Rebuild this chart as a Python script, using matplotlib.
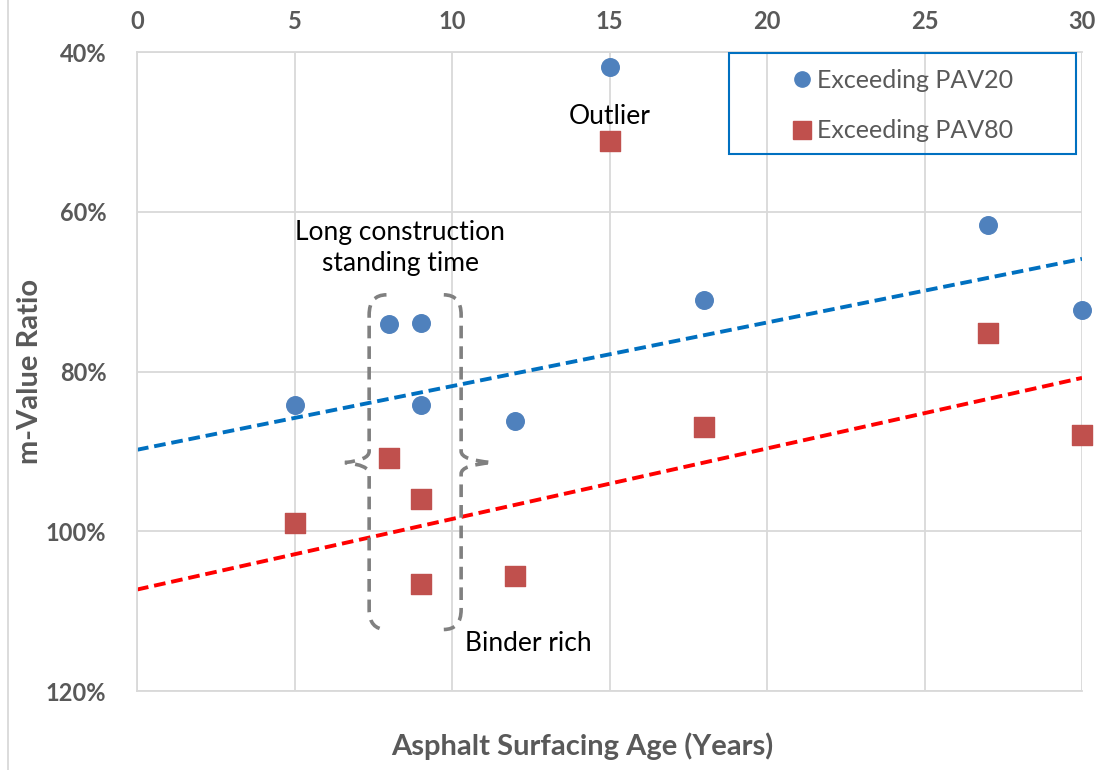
import matplotlib
matplotlib.use("Agg")
import matplotlib.pyplot as plt
from matplotlib.patches import Rectangle, PathPatch
from matplotlib.path import Path
from matplotlib.lines import Line2D

plt.rcParams["font.family"] = ["Lato", "DejaVu Sans"]

# data
age_pav20 = [5, 8, 9, 9, 12, 15, 18, 27, 30]
ratio_pav20 = [84.2, 74.1, 73.9, 84.2, 86.2, 41.9, 71.0, 61.6, 72.3]
age_pav80 = [5, 8, 9, 9, 12, 15, 18, 27, 30]
ratio_pav80 = [99.0, 90.8, 96.0, 106.6, 105.6, 51.1, 87.0, 75.2, 88.0]
trend_x = [0, 30]
trend_pav20 = [89.8, 65.9]
trend_pav80 = [107.3, 80.8]
x_ticks = [0, 5, 10, 15, 20, 25, 30]
y_ticks = [40, 60, 80, 100, 120]

GRAY = "#595959"
GRID = "#D9D9D9"

fig = plt.figure(figsize=(11.04, 7.70), dpi=100)
ax = fig.add_axes([137 / 1104, 1 - 691 / 770, 945 / 1104, 639 / 770])

ax.set_xlim(0, 30)
ax.set_ylim(120, 40)
ax.set_xticks(x_ticks)
ax.set_yticks(y_ticks)
ax.set_yticklabels([f"{v}%" for v in y_ticks])
ax.xaxis.tick_top()
ax.tick_params(length=0, labelsize=17, labelcolor=GRAY)
ax.tick_params(axis="x", pad=14)
ax.tick_params(axis="y", pad=22)
for lbl in ax.get_xticklabels() + ax.get_yticklabels():
    lbl.set_fontweight("bold")
ax.grid(True, color=GRID, linewidth=1.3)
ax.set_axisbelow(True)
for s in ax.spines.values():
    s.set_color(GRID)
    s.set_linewidth(1.3)
ax.spines["right"].set_visible(False)

ax.plot(trend_x, trend_pav20, color="#0070C0", linestyle=(0, (3, 1.5)), linewidth=2.8, zorder=2)
ax.plot(trend_x, trend_pav80, color="#FF0000", linestyle=(0, (3, 1.5)), linewidth=2.8, zorder=2)
ax.scatter(age_pav20, ratio_pav20, s=160, marker="o", color="#4F81BD", zorder=3, clip_on=False)
ax.scatter(age_pav80, ratio_pav80, s=210, marker="s", color="#C0504D", zorder=3, clip_on=False)

# dashed double bracket around the long construction points
L, R, T, B, M = 7.37, 10.29, 70.4, 112.3, 91.4
r = 0.55
left = [(L + r, T), (L, T), (L, T + 2.5), (L, M - 1.4), (L, M - 0.3), (6.6, M), (L, M + 0.3),
        (L, M + 1.4), (L, B - 2.5), (L, B), (L + r, B)]
right = [(R - r, T), (R, T), (R, T + 2.5), (R, M - 1.4), (R, M - 0.3), (11.27, M), (R, M + 0.3),
         (R, M + 1.4), (R, B - 2.5), (R, B), (R - r, B)]
codes = [Path.MOVETO, Path.CURVE3, Path.CURVE3, Path.LINETO, Path.CURVE3, Path.CURVE3,
         Path.CURVE3, Path.CURVE3, Path.LINETO, Path.CURVE3, Path.CURVE3]
for pts in (left, right):
    ax.add_patch(PathPatch(Path(pts, codes), fill=False, edgecolor="#808080",
                           linestyle=(0, (3.5, 2.2)), linewidth=2.6, zorder=2))

ax.text(15, 48.1, "Outlier", ha="center", va="center", fontsize=19, color="black")
ax.text(8.35, 64.6, "Long construction\nstanding time", ha="center", va="center",
        fontsize=19, color="black", linespacing=1.3)
ax.text(10.4, 114.0, "Binder rich", ha="left", va="center", fontsize=19, color="black")

ax.set_ylabel("m-Value Ratio", fontsize=21, fontweight="bold", color=GRAY, labelpad=2)
fig.text(582 / 1104, 1 - 746 / 770, "Asphalt Surfacing Age (Years)", ha="center", va="center",
         fontsize=21, fontweight="bold", color=GRAY)

# legend box
ax.add_patch(Rectangle((729 / 1104, 1 - 154 / 770), 347 / 1104, 101 / 770,
                       transform=fig.transFigure, fill=False, edgecolor="#0070C0",
                       linewidth=1.5, zorder=5))
handles = [Line2D([], [], marker="o", linestyle="none", color="#4F81BD", markersize=11),
           Line2D([], [], marker="s", linestyle="none", color="#C0504D", markersize=13)]
ax.legend(handles, ["Exceeding PAV20", "Exceeding PAV80"], loc="upper left",
          bbox_to_anchor=(772 / 1104, 1 - 51 / 770), bbox_transform=fig.transFigure,
          frameon=False, fontsize=18, labelcolor=GRAY, handletextpad=0.1,
          labelspacing=1.12, handlelength=1.0, borderpad=0.2)

# chart area left border
fig.add_artist(Line2D([8 / 1104, 8 / 1104], [0, 1], color=GRID, linewidth=1.3))

fig.savefig("out.png", dpi=100)
plt.close(fig)
